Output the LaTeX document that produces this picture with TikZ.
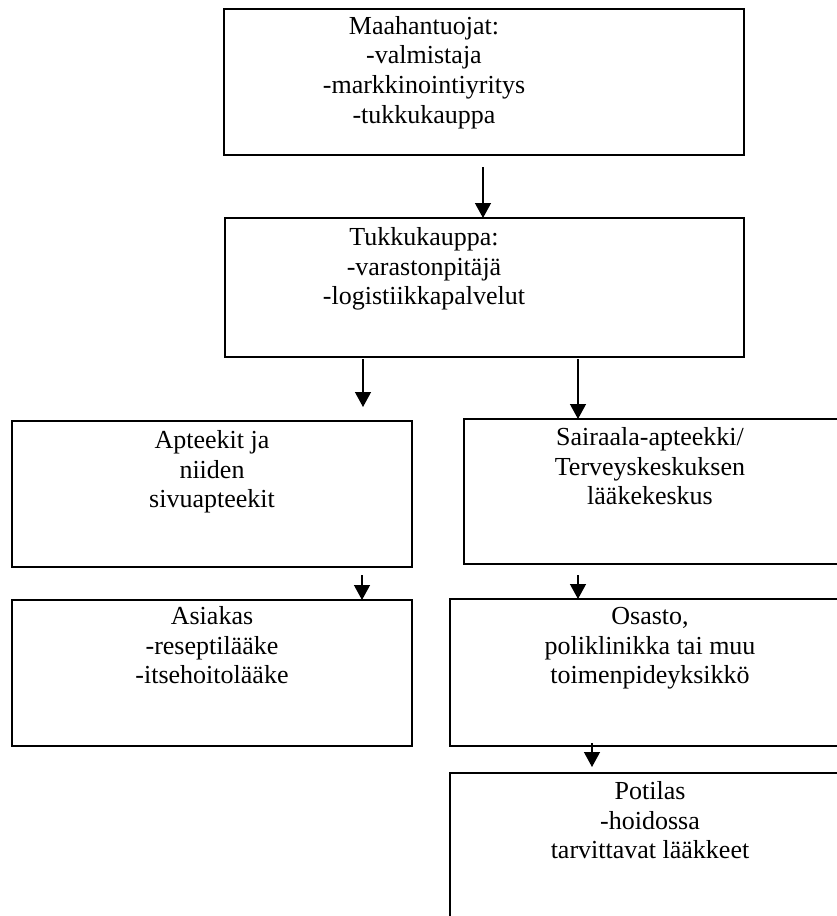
\documentclass[tikz,border=0pt]{standalone}
\usepackage{fontspec}
\setmainfont{Liberation Serif}
\usetikzlibrary{arrows.meta}
\begin{document}
\begin{tikzpicture}[x=1pt,y=-1pt,
  boxst/.style={draw=black, line width=2pt, inner sep=0pt, outer sep=0pt, anchor=north west, fill=none},
  txt/.style={inner sep=0pt, outer sep=0pt, anchor=north, align=center, font=\fontsize{26}{29.6}\selectfont},
  arr/.style={line width=1.3pt, -{Triangle[width=16pt,length=15pt]}}]
\clip (0,0) rectangle (837,916);
\fill[white] (0,0) rectangle (837,916);
% boxes
\node[boxst, minimum width=520pt, minimum height=146pt] (box1) at (224,9) {};
\node[boxst, minimum width=519pt, minimum height=139pt] (box2) at (225,218) {};
\node[boxst, minimum width=400pt, minimum height=146pt] (box3) at (12,421) {};
\node[boxst, minimum width=386pt, minimum height=145pt] (box4) at (464,419) {};
\node[boxst, minimum width=400pt, minimum height=146pt] (box5) at (12,600) {};
\node[boxst, minimum width=400pt, minimum height=147pt] (box6) at (450,599) {};
\node[boxst, minimum width=400pt, minimum height=170pt] (box7) at (450,773) {};
% texts
\node[txt] (t1) at (424,13.5) {\strut Maahantuojat:\\-valmistaja\\-markkinointiyritys\\-tukkukauppa};
\node[txt] (t2) at (424,225) {\strut Tukkukauppa:\\-varastonpitäjä\\-logistiikkapalvelut};
\node[txt] (t3) at (212,428) {\strut Apteekit ja\\niiden\\sivuapteekit};
\node[txt] (t4) at (650,425) {\strut Sairaala-apteekki/\\Terveyskeskuksen\\lääkekeskus};
\node[txt] (t5) at (212,604) {\strut Asiakas\\-reseptilääke\\-itsehoitolääke};
\node[txt] (t6) at (650,604) {\strut Osasto,\\poliklinikka tai muu\\toimenpideyksikkö};
\node[txt] (t7) at (650,779) {\strut Potilas\\-hoidossa\\tarvittavat lääkkeet};
% arrow coordinates
\coordinate (a1s) at (483,167);
\coordinate (a2s) at (363,359);
\coordinate (a2e) at (363,407);
\coordinate (a3s) at (578,359);
\coordinate (a4s) at (362,575);
\coordinate (a5s) at (578,575);
\coordinate (a6s) at (592,743);
\coordinate (a6e) at (592,767);
\draw[arr] (a1s) -- (a1s |- box2.north);
\draw[arr] (a2s) -- (a2e);
\draw[arr] (a3s) -- (a3s |- box4.north);
\draw[arr] (a4s) -- (a4s |- box5.north);
\draw[arr] (a5s) -- (a5s |- box6.north);
\draw[arr] (a6s) -- (a6e);
\end{tikzpicture}
\end{document}
